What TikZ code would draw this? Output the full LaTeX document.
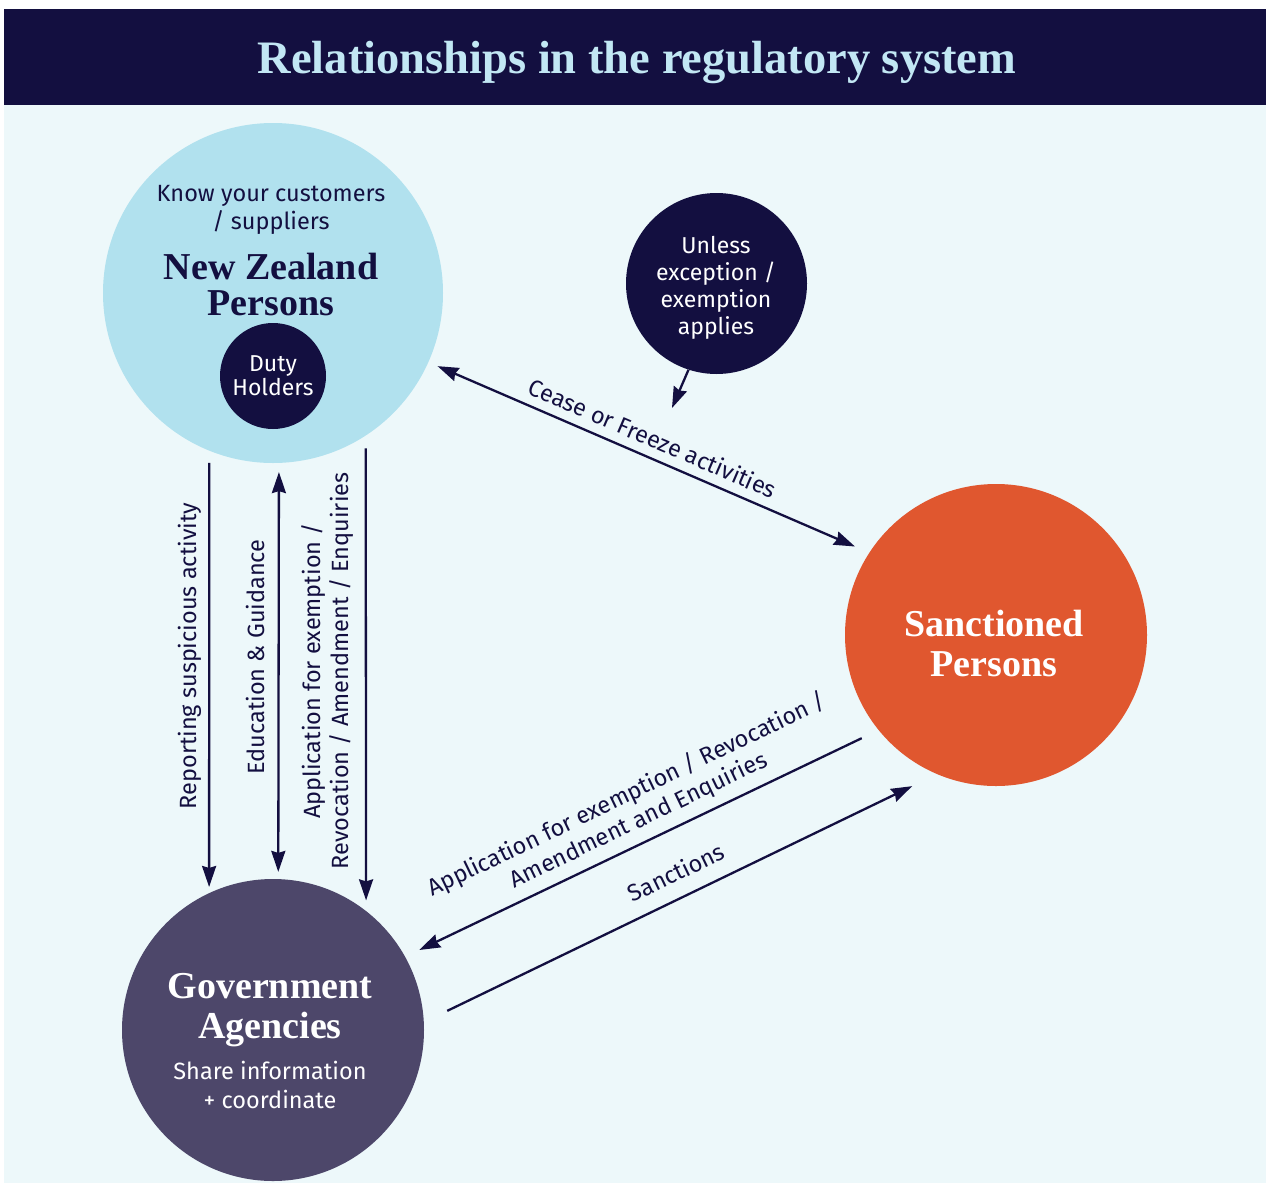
\documentclass[tikz,border=0pt]{standalone}
\usepackage{fontspec}
\setmainfont{Liberation Serif}
\setsansfont{Fira Sans}
\usetikzlibrary{arrows.meta}
\definecolor{navy}{HTML}{130F40}
\definecolor{skyblue}{HTML}{B1E1EE}
\definecolor{paleblue}{HTML}{EDF8FA}
\definecolor{titleblue}{HTML}{C2E7F4}
\definecolor{flame}{HTML}{E0572F}
\definecolor{slate}{HTML}{4D476A}
\tikzset{
  party/.style={circle, inner sep=0pt, minimum size=#1},
  heading/.style={font=\fontsize{38}{40}\selectfont\bfseries, align=center},
  note/.style={font=\sffamily\fontsize{23.5}{28}\selectfont, text=navy, align=center},
  flow/.style={draw=navy, line width=2.3pt},
  tip/.style={-{Stealth[length=21pt,width=14pt,inset=2pt]}},
  tips/.style={{Stealth[length=21pt,width=14pt,inset=2pt]}-{Stealth[length=21pt,width=14pt,inset=2pt]}}
}
\begin{document}
\begin{tikzpicture}[x=1pt, y=-1pt]
      \useasboundingbox (0,0) rectangle (1266,1186);
      \fill[white] (0,0) rectangle (1266,1186);
      \fill[paleblue] (4,105) rectangle (1266,1183);
      \fill[navy] (4,9) rectangle (1266,105);
      \node[font=\fontsize{46.5}{46.5}\selectfont\bfseries, text=titleblue] (title) at (637,62) {Relationships in the regulatory system};

      \node[party=340pt, fill=skyblue] (nz) at (273,293) {};
      \node[party=106pt, fill=navy, text=white, align=center, font=\sffamily\fontsize{23}{24}\selectfont] (duty) at (273,376) {Duty\\Holders};
      \node[party=181pt, fill=navy] (unless) at (716.5,283.5) {};
      \node[party=302pt, fill=flame] (sanc) at (996,635) {};
      \node[party=302pt, fill=slate] (gov) at (273,1030) {};
      \coordinate (hint) at (672,408);

      \node[note] (know) at (271,210) {Know your customers\\/ suppliers};
      \node[heading, text=navy, font=\fontsize{38}{36}\selectfont\bfseries] (nzname) at (271,284) {New Zealand\\Persons};
      \node[note, text=white, font=\sffamily\fontsize{23}{27}\selectfont] (unlessname) at (716,288) {Unless\\exception /\\exemption\\applies};
      \node[heading, text=white] (sancname) at (994,643) {Sanctioned\\Persons};
      \node[heading, text=white] (govname) at (270,1010) {Government\\Agencies};
      \node[note, text=white, font=\sffamily\fontsize{23.5}{29}\selectfont] (share) at (270,1085) {Share information\\+ coordinate};

      \node[note, rotate=90] (report) at (190,656) {Reporting suspicious activity};
      \node[note, rotate=90] (edu) at (255,657) {Education \& Guidance};
      \node[note, rotate=90] (apply) at (328,671) {Application for exemption /\\Revocation / Amendment / Enquiries};
      \node[note, rotate=-23.3] (cease) at (653,438) {Cease or Freeze activities};
      \node[note, rotate=25.7] (applyback) at (633,808) {Application for exemption / Revocation /\\Amendment and Enquiries};
      \node[note, rotate=25.7] (penalty) at (676,872) {Sanctions};

      \begin{scope}[flow]
        \draw[tip, shorten <=12pt, shorten >=6pt] (nz.-112.85) to (gov.115.9);
        \draw[tips, shorten <=9pt, shorten >=7pt] (nz.-88.65) to (gov.88.48);
        \draw[tip, shorten <=12.6pt, shorten >=10.5pt] (nz.-57.6) to (gov.52.9);
        \draw[tips, shorten <=9.9pt, shorten >=15.5pt] (nz.-24.35) to (sanc.147.1);
        \draw[tip] (unless.-108.8) to (hint);
        \draw[tip, shorten <=18.6pt, shorten >=15.6pt] (sanc.-141.5) to (gov.29.0);
        \draw[tip, shorten <=25.8pt, shorten >=27.5pt] (gov.3.3) to (sanc.-113.05);
      \end{scope}
    \end{tikzpicture}
\end{document}
